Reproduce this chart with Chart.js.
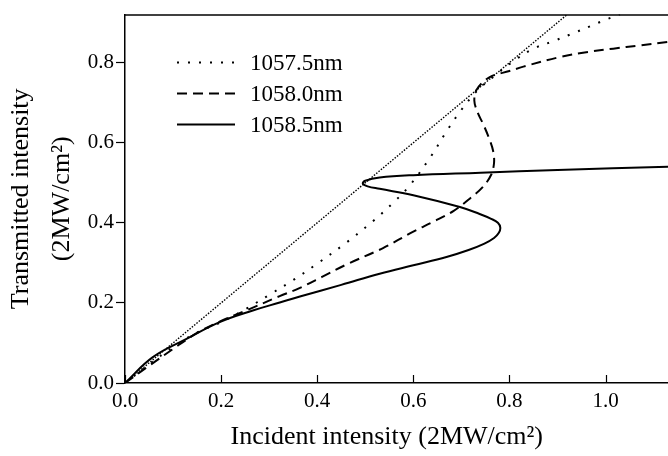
<!DOCTYPE html>
<html>
<head>
<meta charset="utf-8">
<script src="https://cdn.jsdelivr.net/npm/chart.js@4.4.1/dist/chart.umd.min.js"></script>
<style>
  html, body { margin: 0; padding: 0; background: #fff; }
  canvas { display: block; }
</style>
</head>
<body>
<canvas id="bistableChart" width="668" height="456"></canvas>
<script>
// reference line T = I
const diagX = [0, 0.92];
const diagY = [0, 0.92];

// 1057.5nm
const x1057_5 = [0, 0.05, 0.1, 0.15, 0.2, 0.25, 0.3, 0.35, 0.4, 0.46, 0.516, 0.558, 0.593, 0.635, 0.67, 0.698, 0.732, 0.77, 0.81, 0.85, 0.89, 0.93, 0.97, 1.0, 1.03];
const y1057_5 = [0, 0.046, 0.09, 0.126, 0.152, 0.184, 0.22, 0.257, 0.298, 0.35, 0.404, 0.45, 0.494, 0.563, 0.63, 0.679, 0.729, 0.768, 0.805, 0.835, 0.853, 0.872, 0.892, 0.907, 0.921];

// 1058.0nm
const x1058_0 = [0, 0.05, 0.1, 0.15, 0.2, 0.25, 0.322, 0.363, 0.41, 0.461, 0.537, 0.6, 0.642, 0.684, 0.719, 0.745, 0.762, 0.768, 0.766, 0.758, 0.746, 0.734, 0.727, 0.732, 0.759, 0.8, 0.829, 0.905, 0.96, 1.016, 1.07, 1.13];
const y1058_0 = [0, 0.043, 0.085, 0.125, 0.155, 0.18, 0.217, 0.237, 0.265, 0.296, 0.337, 0.378, 0.403, 0.43, 0.462, 0.49, 0.52, 0.55, 0.58, 0.61, 0.645, 0.675, 0.705, 0.733, 0.764, 0.779, 0.79, 0.814, 0.826, 0.835, 0.843, 0.852];

// 1058.5nm
const x1058_5 = [0, 0.058, 0.128, 0.197, 0.266, 0.322, 0.364, 0.45, 0.53, 0.6, 0.669, 0.715, 0.748, 0.768, 0.778, 0.781, 0.776, 0.762, 0.738, 0.697, 0.6, 0.53, 0.505, 0.495, 0.5, 0.53, 0.6, 0.74, 0.9, 1.13];
const y1058_5 = [0, 0.0645, 0.11, 0.152, 0.181, 0.201, 0.216, 0.245, 0.273, 0.294, 0.3145, 0.332, 0.348, 0.362, 0.375, 0.388, 0.4, 0.41, 0.422, 0.4395, 0.469, 0.485, 0.491, 0.498, 0.505, 0.513, 0.519, 0.525, 0.532, 0.54];

const X_MAX = 1.13;
const Y_MAX = 0.92;

const FONT = "'Liberation Serif', 'Times New Roman', serif";

function toPoints(xs, ys) {
    return xs.map((x, i) => ({ x, y: ys[i] }));
}

// frame: top border + inward ticks on the x axis
const framePlugin = {
    id: 'frame',
    afterDraw(chart) {
        const { ctx, chartArea: a, scales } = chart;
        ctx.save();
        ctx.strokeStyle = '#000';
        ctx.lineWidth = 1.5;
        ctx.beginPath();
        ctx.moveTo(a.left, a.top + 0.5);
        ctx.lineTo(a.right, a.top + 0.5);
        ctx.stroke();

        ctx.lineWidth = 1.2;
        scales.x.ticks.forEach(t => {
            const px = Math.round(scales.x.getPixelForValue(t.value)) + 0.5;
            ctx.beginPath();
            ctx.moveTo(px, a.bottom);
            ctx.lineTo(px, a.bottom - 8);
            ctx.stroke();
        });
        ctx.restore();
    }
};

// legend drawn inside the plot, top-left
const insideLegend = {
    id: 'insideLegend',
    afterDraw(chart) {
        const { ctx, chartArea: a } = chart;
        const items = chart.data.datasets.filter(d => d.label);
        ctx.save();
        items.forEach((d, i) => {
            const y = a.top + 48 + i * 31;
            ctx.strokeStyle = d.borderColor;
            ctx.lineWidth = d.borderWidth;
            ctx.setLineDash(d.borderDash || []);
            ctx.beginPath();
            ctx.moveTo(a.left + 52, y);
            ctx.lineTo(a.left + 110, y);
            ctx.stroke();
            ctx.setLineDash([]);
            ctx.fillStyle = '#000';
            ctx.font = `23px ${FONT}`;
            ctx.textBaseline = 'middle';
            ctx.textAlign = 'left';
            ctx.fillText(d.label, a.left + 125, y + 1);
        });
        ctx.restore();
    }
};

new Chart(document.getElementById('bistableChart'), {
    type: 'scatter',
    data: {
        datasets: [
            {
                label: '',
                data: toPoints(diagX, diagY),
                showLine: true,
                borderColor: '#000',
                borderWidth: 1.4,
                borderDash: [1.5, 1.5],
                pointRadius: 0
            },
            {
                label: '1057.5nm',
                data: toPoints(x1057_5, y1057_5),
                showLine: true,
                borderColor: '#000',
                borderWidth: 2,
                borderDash: [2, 9],
                tension: 0.35,
                pointRadius: 0
            },
            {
                label: '1058.0nm',
                data: toPoints(x1058_0, y1058_0),
                showLine: true,
                borderColor: '#000',
                borderWidth: 2,
                borderDash: [10, 6],
                tension: 0.35,
                pointRadius: 0
            },
            {
                label: '1058.5nm',
                data: toPoints(x1058_5, y1058_5),
                showLine: true,
                borderColor: '#000',
                borderWidth: 2,
                tension: 0.4,
                pointRadius: 0
            }
        ]
    },
    options: {
        responsive: false,
        animation: false,
        devicePixelRatio: 1,
        layout: { padding: { top: 14, right: 0, left: 0, bottom: 0 } },
        plugins: {
            legend: { display: false },
            tooltip: { enabled: false }
        },
        scales: {
            x: {
                type: 'linear',
                min: 0,
                max: X_MAX,
                afterFit: s => { s.height = 73; },
                border: { display: true, color: '#000', width: 1.5 },
                grid: { drawOnChartArea: false, drawTicks: false },
                ticks: {
                    stepSize: 0.2,
                    includeBounds: false,
                    padding: 6,
                    color: '#000',
                    font: { family: FONT, size: 21 },
                    callback: v => v.toFixed(1)
                },
                title: {
                    display: true,
                    // trailing spaces nudge the centred title left like the original
                    text: 'Incident intensity (2MW/cm²)\u00a0\u00a0\u00a0',
                    color: '#000',
                    font: { family: FONT, size: 26 },
                    padding: { top: 0, bottom: 3 }
                }
            },
            y: {
                type: 'linear',
                min: 0,
                max: Y_MAX,
                afterFit: s => { s.width = 125; },
                border: { display: true, color: '#000', width: 1.5 },
                grid: { drawOnChartArea: false, drawTicks: true, tickLength: 9, tickColor: '#000', tickWidth: 1.2 },
                ticks: {
                    stepSize: 0.2,
                    includeBounds: false,
                    padding: 2,
                    color: '#000',
                    font: { family: FONT, size: 21 },
                    callback: v => v.toFixed(1)
                },
                title: {
                    display: true,
                    text: ['Transmitted intensity', '(2MW/cm²)'],
                    color: '#000',
                    font: { family: FONT, size: 26, lineHeight: 1.6 },
                    padding: { top: 0, bottom: 0 }
                }
            }
        }
    },
    plugins: [framePlugin, insideLegend]
});
</script>
</body>
</html>
